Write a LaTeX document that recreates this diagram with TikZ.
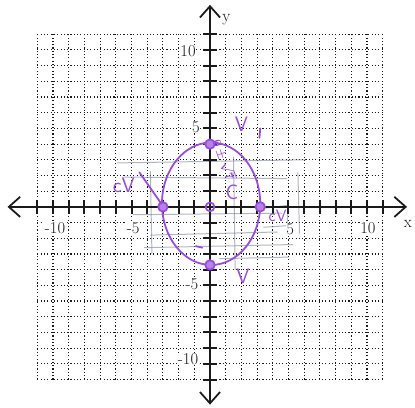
\documentclass[tikz,border=0pt]{standalone}
\usepackage{xcolor}
\definecolor{ink}{HTML}{1A1A1A}
\definecolor{pen}{HTML}{9A4BDF}
\definecolor{pencil}{HTML}{6C7896}
\usepackage{tikz}
\usetikzlibrary{arrows.meta}
\tikzset{
  gridline/.style = {ink, line width=1pt, dotted},
  axisline/.style = {ink, line width=2.2pt,
                     -{Straight Barb[length=3.6mm, width=6.4mm, line width=1.6pt]}},
  tickmark/.style = {ink, line width=1.8pt},
  ticklabel/.style = {fill=white, inner sep=0.5pt, text=ink,
                      font=\fontsize{15}{17}\selectfont},
  handline/.style = {pen, line width=1.6pt, line cap=round, line join=round},
  handtext/.style = {text=pen, font=\sffamily\fontsize{19}{21}\selectfont},
  dotmark/.style  = {handline, fill=pen!70},
  erased/.style   = {pencil, line width=0.9pt, opacity=0.55}
}
\begin{document}
\begin{tikzpicture}[x=0.5cm, y=0.5cm]
  \useasboundingbox (-13.38,-12.80) rectangle (13.06,13.18);
  % graph paper
  \foreach \k in {-11,...,11} {
    \draw[gridline] (\k,-11) -- (\k,11);
    \draw[gridline] (-11,\k) -- (11,\k);
  }
  % faint pencil lines
  \draw[erased] (-5.9,2.8) -- (6.1,3.0);
  \draw[erased] (-5.5,1.9) -- (4.9,1.8);
  \draw[erased] (-3.8,-1.8) -- (4.3,-1.6);
  \draw[erased] (-4.9,-0.5) -- (4.6,-0.4);
  \draw[erased] (-4.2,-2.6) -- (5.3,-2.4);
  \draw[erased] (0.6,-3.3) -- (5.0,-3.2);
  \draw[erased] (-3.8,2.3) -- (-3.7,-3.0);
  \draw[erased] (1.5,3.2) -- (1.6,-4.0);
  \draw[erased] (5.6,2.2) -- (5.7,-1.7);
  \draw[erased] (3.3,-0.1) -- (5.0,0.1) -- (4.9,-1.2) -- (3.4,-1.3);
  % axes
  \draw[axisline] (-11.5,0) -- (12.55,0);
  \draw[axisline] (11.5,0) -- (-12.9,0);
  \draw[axisline] (0,-11.5) -- (0,12.87);
  \draw[axisline] (0,11.5) -- (0,-12.6);
  \foreach \k in {-11,...,-1,1,2,...,11} {
    \draw[tickmark] (\k,-0.45) -- (\k,0.45);
    \draw[tickmark] (-0.45,\k) -- (0.45,\k);
  }
  \node[ticklabel] (xm10) at (-9.87,-1.34) {-10};
  \node[ticklabel] (xm5)  at (-4.9,-1.34)  {-5};
  \node[ticklabel] (xp5)  at (5.1,-1.45)   {5};
  \node[ticklabel] (xp10) at (10.06,-1.34) {10};
  \node[ticklabel] (yp10) at (-1.4,9.9)    {10};
  \node[ticklabel] (yp5)  at (-0.9,5.1)    {5};
  \node[ticklabel] (ym5)  at (-1.15,-4.9)  {-5};
  \node[ticklabel] (ym10) at (-1.4,-9.7)   {-10};
  \node[text=ink, font=\fontsize{15}{17}\selectfont] (ylab) at (1.05,11.9) {y};
  \node[text=ink, font=\fontsize{15}{17}\selectfont] (xlab) at (12.6,-1.1) {x};
  % hand-drawn ellipse
  \draw[handline] (0.07,0.2) ellipse [x radius=3.13, y radius=3.9];
  \draw[dotmark] (-3.0,0) circle [radius=0.3];
  \draw[dotmark] (3.2,0) circle [radius=0.3];
  \draw[dotmark] (0,4.0) circle [radius=0.3];
  \draw[dotmark] (0,-3.7) circle [radius=0.3];
  \draw[handline] (0,0) circle [radius=0.28];
  % hand-written notes
  \node[handtext] (vtop) at (2.0,5.25) {V};
  \draw[handline] (3.2,5.0) -- (3.15,4.4);
  \node[handtext, font=\sffamily\bfseries\boldmath\fontsize{11}{13}\selectfont,
        rotate=-70, inner sep=0pt] (foci) at (0.9,3.0) {$0\pm\sqrt{7}$};
  \node[handtext] (cvl) at (-5.5,1.4) {cV};
  \draw[handline] (-4.5,2.2) -- (-3.1,0.2);
  \node[handtext] (cmid) at (1.4,0.95) {C};
  \node[handtext, font=\sffamily\fontsize{15}{17}\selectfont] (cvr) at (4.3,-0.55) {cV};
  \draw[handline] (-0.9,-2.5) -- (-0.5,-2.6);
  \node[handtext] (vbot) at (2.1,-4.45) {V};
\end{tikzpicture}
\end{document}
